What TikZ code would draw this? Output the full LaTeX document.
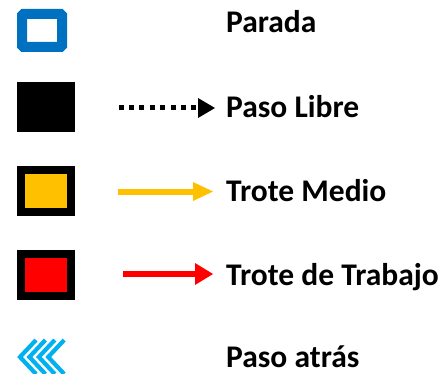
\documentclass[tikz,border=0pt]{standalone}
\usepackage{fontspec}
\setmainfont{Carlito}
\definecolor{pblue}{HTML}{0070C0}
\definecolor{pcyan}{HTML}{00B0F0}
\definecolor{pyellow}{HTML}{FFC000}
\definecolor{pred}{HTML}{FF0000}
\begin{document}
\begin{tikzpicture}[x=1pt,y=-1pt,
  lbl/.style={anchor=base west,inner sep=0pt,font=\fontsize{31.5}{33}\selectfont\bfseries},
  framebox/.style={draw=black,line width=8pt,minimum width=50pt,minimum height=42pt,inner sep=0pt},
  chev/.style={draw=pcyan,line width=4.2pt,miter limit=10}]
\useasboundingbox (0,0) rectangle (447,374);
% Parada
\node[draw=pblue,line width=10pt,rounded corners=1.5pt,minimum width=40pt,minimum height=33pt,inner sep=0pt] (parada) at (42,30.5) {};
\node[lbl] (tparada) at (226,33) {Parada};
% Paso libre
\node[fill=black,minimum width=58pt,minimum height=50pt,inner sep=0pt] (libre) at (46,107) {};
\coordinate (ls) at (118.5,108);
\coordinate (le) at (196,108);
\draw[line width=5pt,dash pattern=on 5pt off 5.4pt] (ls) -- (le);
\fill (198,98) -- (215,108) -- (198,118) -- cycle;
\node[lbl] (tlibre) at (226,118) {Paso Libre};
% Trote medio
\node[framebox,fill=pyellow] (medio) at (46,191) {};
\coordinate (ms) at (118,192);
\coordinate (me) at (194,192);
\draw[pyellow,line width=6.5pt] (ms) -- (me);
\fill[pyellow] (193,182) -- (213,191.5) -- (193,201) -- cycle;
\node[lbl] (tmedio) at (226,202) {Trote Medio};
% Trote de trabajo
\node[framebox,fill=pred] (trabajo) at (46,274.5) {};
\coordinate (ts) at (123,274);
\coordinate (te) at (196,274);
\draw[pred,line width=6pt] (ts) -- (te);
\fill[pred] (195,263) -- (213,274) -- (195,285) -- cycle;
\node[lbl] (ttrabajo) at (226,285) {Trote de Trabajo};
% Paso atras
\foreach \i in {0,1,2,3}{
  \draw[chev] ({20+9.4*\i+16},340) -- ({20+9.4*\i},357) -- ({20+9.4*\i+16},374);
}
\node[lbl] (tatras) at (226,367.5) {Paso atrás};
\end{tikzpicture}
\end{document}
